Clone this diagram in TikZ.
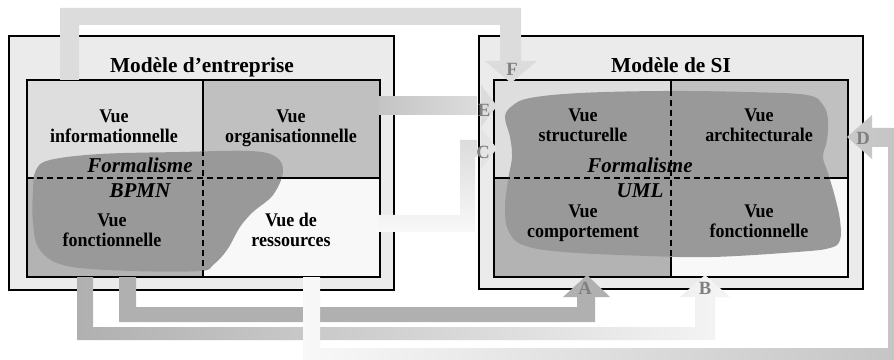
\documentclass[tikz,border=0pt]{standalone}
\usepackage{fontspec}
\setmainfont{Liberation Serif}
\newfontfamily\cellfont[FakeStretch=0.93]{Liberation Serif}
\definecolor{outerfill}{HTML}{EBEBEB}
\definecolor{cellA}{HTML}{DEDEDE}
\definecolor{cellB}{HTML}{C0C0C0}
\definecolor{cellC}{HTML}{B3B3B3}
\definecolor{cellD}{HTML}{F8F8F8}
\definecolor{blobc}{HTML}{999999}
\definecolor{lblc}{HTML}{808080}
\definecolor{arrF}{HTML}{DCDCDC}
\definecolor{arrA}{HTML}{B0B0B0}
\definecolor{arrB}{HTML}{F5F5F5}
\definecolor{arrD}{HTML}{C4C4C4}
\begin{document}
\begin{tikzpicture}[x=0.75pt,y=-0.75pt,
  border/.style={draw=black,line width=1.5pt},
  gridline/.style={draw=black,line width=1.3pt},
  dashline/.style={draw=black,line width=1.2pt,dash pattern=on 4.5pt off 3pt},
  celltext/.style={font=\cellfont\bfseries\fontsize{14.5}{15}\selectfont,align=center,anchor=base,inner sep=0pt},
  titletext/.style={font=\bfseries\fontsize{16}{18}\selectfont,anchor=base,inner sep=0pt},
  formtext/.style={font=\bfseries\itshape\fontsize{15.8}{18.75}\selectfont,align=center,anchor=base,inner sep=0pt},
  arrlabel/.style={font=\bfseries\fontsize{14}{16}\selectfont,text=lblc,inner sep=0pt}]
\useasboundingbox (0,0) rectangle (894,360);
\clip (0,0) rectangle (894,360);
\fill[white] (0,0) rectangle (894,360);
% outer boxes
\fill[outerfill] (9,36) rectangle (394,290);
\fill[outerfill] (479,36) rectangle (863,289);
% left cells
\fill[cellA] (27,80) rectangle (203,178);
\fill[cellB] (203,80) rectangle (380,178);
\fill[cellC] (27,178) rectangle (203,277);
\fill[cellD] (203,178) rectangle (380,277);
% right cells
\fill[cellA] (494,80) rectangle (671,178);
\fill[cellB] (671,80) rectangle (848,178);
\fill[cellC] (494,178) rectangle (671,277);
\fill[cellD] (671,178) rectangle (848,277);
% solid grid lines
\draw[gridline] (203,80) -- (203,277) (27,178) -- (380,178);
\draw[gridline] (671,80) -- (671,277) (494,178) -- (848,178);
% left blob (BPMN)
\begin{scope}
  \clip plot[smooth cycle,tension=0.6] coordinates {(36,170) (50,160) (100,154) (180,152) (250,151) (276,157) (283,172) (273,195) (253,212) (240,227) (227,250) (213,265) (200,271) (133,271) (67,266) (40,250) (33,223) (33,190)};
  \fill[blobc] (0,0) rectangle (894,360);
  \draw[dashline] (203,80) -- (203,277) (27,178) -- (380,178);
\end{scope}
% right blob (UML)
\begin{scope}
  \clip plot[smooth cycle,tension=0.6] coordinates {(505,117) (512,106) (530,98) (580,93) (663,91) (747,92) (807,95) (823,105) (828,120) (827,140) (823,157) (828,173) (835,197) (840,220) (840,240) (830,248) (797,252) (713,257) (647,256) (563,252) (523,245) (508,230) (505,207) (508,180) (512,157) (510,137)};
  \fill[blobc] (0,0) rectangle (894,360);
  \draw[dashline] (671,80) -- (671,277) (494,178) -- (848,178);
\end{scope}
% borders
\draw[border] (9,36) rectangle (394,290);
\draw[border] (27,80) rectangle (380,277);
\draw[border] (479,36) rectangle (863,289);
\draw[border] (494,80) rectangle (848,277);
% titles and texts
\node[titletext] (t1) at (202,73) {Modèle d’entreprise};
\node[titletext] (t2) at (671,73) {Modèle de SI};
\node[celltext] (l1) at (114,143) {Vue\\informationnelle};
\node[celltext] (l2) at (291,143) {Vue\\organisationnelle};
\node[celltext] (l3) at (112,247) {Vue\\fonctionnelle};
\node[celltext] (l4) at (291,247) {Vue de\\ressources};
\node[celltext] (r1) at (583,142) {Vue\\structurelle};
\node[celltext] (r2) at (759,142) {Vue\\architecturale};
\node[celltext] (r3) at (583,238) {Vue\\comportement};
\node[celltext] (r4) at (759,238) {Vue\\fonctionnelle};
\node[formtext] (f1) at (140,198) {Formalisme\\BPMN};
\node[formtext] (f2) at (640,198) {Formalisme\\UML};
% arrow F
\fill[arrF] (60,80) -- (60,8) -- (521,8) -- (521,61) -- (537,61) -- (511,83) -- (485,61) -- (500,61) -- (500,25) -- (79,25) -- (79,80) -- cycle;
% arrow E
\shade[left color=arrD,right color=arrF] (378,97) rectangle (477,115);
\fill[arrF] (481,85) -- (497,106) -- (481,127) -- cycle;
% arrow C
\shade[top color=arrF,bottom color=cellD] (378,215) -- (460,215) -- (460,140) -- (477,140) -- (477,157) -- (475,157) -- (475,232) -- (378,232) -- cycle;
\fill[arrF!70!cellD] (481,128) -- (497,148.5) -- (481,169) -- cycle;
% arrow A
\fill[arrA] (119,277) -- (119,322) -- (595,322) -- (595,297) -- (610,297) -- (587,275) -- (563,297) -- (577,297) -- (577,307) -- (136,307) -- (136,277) -- cycle;
% arrow B
\shade[left color=arrA,right color=arrB] (77,277) -- (77,340) -- (715,340) -- (715,297) -- (730,297) -- (705,275) -- (680,297) -- (695,297) -- (695,327) -- (93,327) -- (93,277) -- cycle;
% arrow D
\shade[left color=cellD,right color=arrD] (303,277) -- (303,366) -- (906,366) -- (906,128) -- (872,128) -- (872,115) -- (847,137) -- (872,159) -- (872,147) -- (888,147) -- (888,348) -- (320,348) -- (320,277) -- cycle;
% arrow labels
\node[arrlabel] (lF) at (512,69) {F};
\node[arrlabel] (lE) at (484,110) {E};
\node[arrlabel] (lC) at (483,152) {C};
\node[arrlabel] (lD) at (863,138) {D};
\node[arrlabel] (lA) at (585,288) {A};
\node[arrlabel] (lB) at (705,288) {B};
\end{tikzpicture}
\end{document}
